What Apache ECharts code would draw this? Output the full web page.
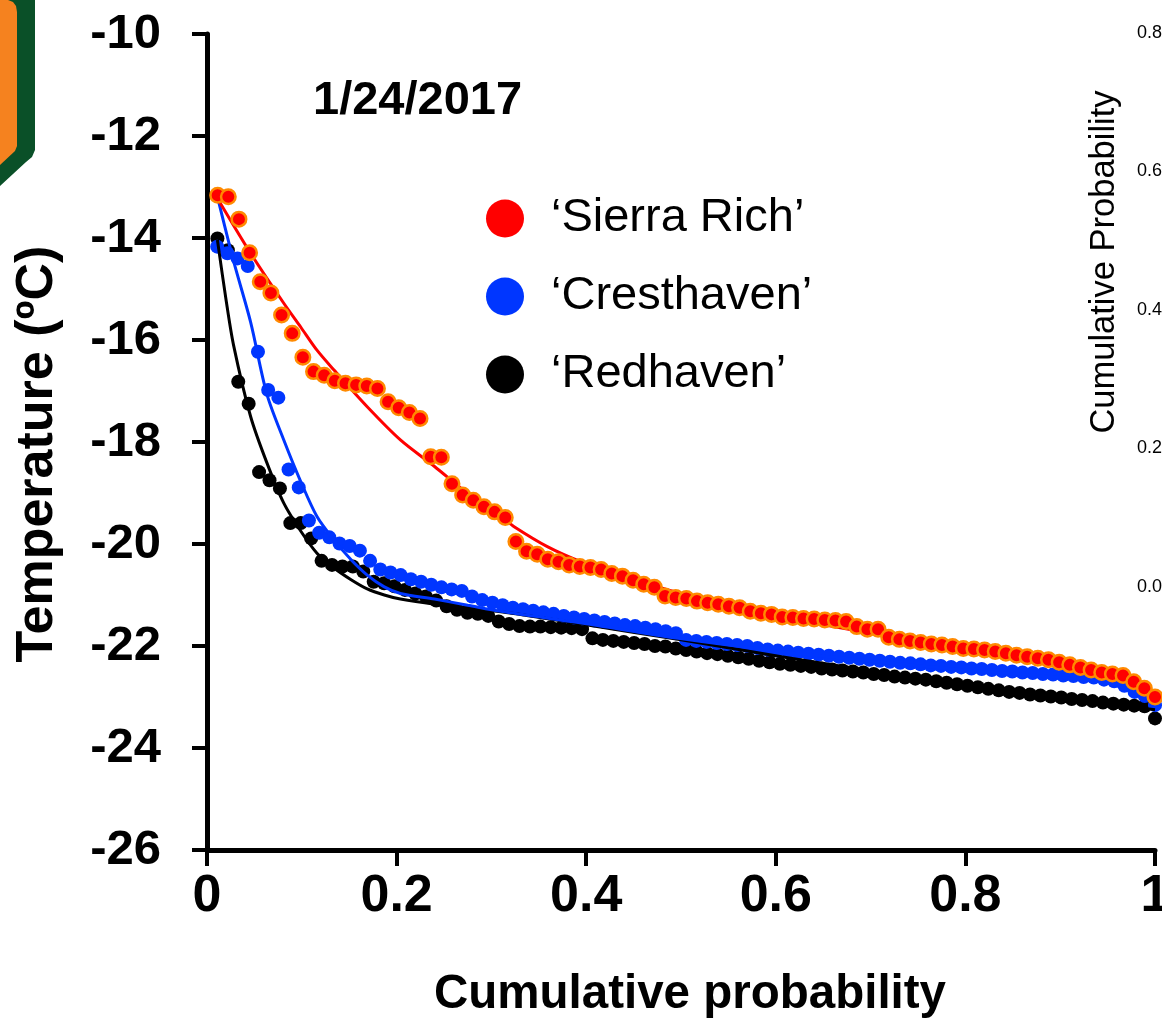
<!DOCTYPE html>
<html>
<head>
<meta charset="utf-8">
<script src="https://cdn.jsdelivr.net/npm/echarts@6/dist/echarts.min.js"></script>
<style>
html,body{margin:0;padding:0;background:#fff;overflow:hidden;}
#chart{width:1162px;height:1020px;}
</style>
</head>
<body>
<div id="chart"></div>
<script>
// ---- Data ----
const seriesNames = ['\u2018Sierra Rich\u2019', '\u2018Cresthaven\u2019', '\u2018Redhaven\u2019'];
const xTickLabels = ['0', '0.2', '0.4', '0.6', '0.8', '1'];
const yTickLabels = ['-26', '-24', '-22', '-20', '-18', '-16', '-14', '-12', '-10'];
const chartDate = '1/24/2017';
const sidePanelTicks = ['0.8', '0.6', '0.4', '0.2', '0.0'];

// Sierra Rich observed temperatures, sorted (89 buds)
const sierraRich = [
 -13.16,-13.19,-13.63,-14.29,-14.86,-15.08,-15.51,-15.87,-16.34,-16.62,
 -16.69,-16.80,-16.85,-16.88,-16.90,-16.95,-17.21,-17.33,-17.42,-17.54,
 -18.29,-18.30,-18.82,-19.04,-19.14,-19.27,-19.37,-19.48,-19.95,-20.14,
 -20.20,-20.30,-20.35,-20.41,-20.44,-20.46,-20.50,-20.58,-20.63,-20.71,
 -20.79,-20.85,-21.02,-21.05,-21.07,-21.12,-21.15,-21.18,-21.22,-21.25,
 -21.32,-21.36,-21.38,-21.43,-21.44,-21.46,-21.47,-21.49,-21.50,-21.52,
 -21.62,-21.67,-21.67,-21.83,-21.87,-21.90,-21.93,-21.96,-21.98,-22.01,
 -22.05,-22.06,-22.08,-22.11,-22.14,-22.18,-22.21,-22.24,-22.27,-22.32,
 -22.37,-22.42,-22.47,-22.52,-22.55,-22.58,-22.70,-22.83,-23.00
];
// Cresthaven observed temperatures, sorted (93 buds)
const cresthaven = [
 -14.17,-14.30,-14.40,-14.55,-16.23,-16.98,-17.13,-18.54,-18.89,-19.54,
 -19.78,-19.87,-19.99,-20.04,-20.13,-20.33,-20.50,-20.56,-20.61,-20.69,
 -20.74,-20.80,-20.85,-20.89,-20.92,-21.03,-21.10,-21.15,-21.20,-21.25,
 -21.28,-21.31,-21.34,-21.37,-21.41,-21.44,-21.47,-21.50,-21.53,-21.56,
 -21.59,-21.61,-21.64,-21.67,-21.71,-21.75,-21.88,-21.90,-21.92,-21.94,
 -21.96,-21.98,-22.00,-22.04,-22.07,-22.09,-22.11,-22.13,-22.15,-22.17,
 -22.19,-22.21,-22.23,-22.25,-22.27,-22.29,-22.31,-22.33,-22.34,-22.36,
 -22.38,-22.39,-22.41,-22.42,-22.44,-22.45,-22.47,-22.49,-22.50,-22.52,
 -22.53,-22.55,-22.56,-22.58,-22.59,-22.61,-22.62,-22.66,-22.69,-22.78,
 -22.90,-22.98,-23.16
];
// Redhaven observed temperatures, sorted (91 buds)
const redhaven = [
 -14.01,-14.24,-16.82,-17.25,-18.59,-18.75,-18.91,-19.59,-19.59,-19.89,
 -20.33,-20.41,-20.44,-20.44,-20.54,-20.74,-20.77,-20.83,-20.90,-20.97,
 -21.03,-21.11,-21.22,-21.29,-21.35,-21.37,-21.41,-21.52,-21.57,-21.61,
 -21.62,-21.62,-21.63,-21.64,-21.65,-21.67,-21.85,-21.88,-21.90,-21.92,
 -21.94,-21.96,-22.00,-22.01,-22.05,-22.08,-22.11,-22.14,-22.16,-22.19,
 -22.22,-22.25,-22.29,-22.32,-22.35,-22.37,-22.39,-22.41,-22.44,-22.46,
 -22.48,-22.50,-22.52,-22.55,-22.57,-22.60,-22.62,-22.64,-22.66,-22.69,
 -22.72,-22.75,-22.78,-22.81,-22.84,-22.87,-22.90,-22.92,-22.95,-22.97,
 -22.99,-23.01,-23.04,-23.06,-23.08,-23.11,-23.13,-23.15,-23.17,-23.18,
 -23.42
];

// Fitted curves: [cumulative probability, temperature]
const sierraRichFitX = [0.011,0.046,0.081,0.099,0.116,0.134,0.169,0.204,0.240,0.275,0.310,0.324,0.359,0.395,0.437,0.521,0.627,0.733,0.838,0.902,0.936,0.972,1.0];
const sierraRichFitY = [-13.22,-14.30,-15.28,-15.75,-16.20,-16.59,-17.31,-17.96,-18.48,-19.01,-19.46,-19.66,-20.05,-20.35,-20.62,-21.08,-21.50,-21.85,-22.15,-22.38,-22.50,-22.70,-22.96];
const cresthavenFitX = [0.011,0.028,0.046,0.063,0.081,0.099,0.116,0.134,0.152,0.169,0.187,0.204,0.240,0.275,0.310,0.395,0.497,0.606,0.712,0.817,0.902,0.955,1.0];
const cresthavenFitY = [-13.19,-14.45,-15.65,-17.05,-17.96,-18.78,-19.46,-19.92,-20.31,-20.61,-20.84,-20.97,-21.08,-21.20,-21.32,-21.55,-21.85,-22.11,-22.32,-22.50,-22.62,-22.75,-23.12];
const redhavenFitX = [0.011,0.020,0.028,0.046,0.063,0.081,0.099,0.116,0.134,0.152,0.169,0.187,0.204,0.240,0.310,0.395,0.500,0.606,0.712,0.817,0.923,1.0];
const redhavenFitY = [-14.04,-15.20,-16.10,-17.50,-18.40,-19.20,-19.75,-20.18,-20.47,-20.70,-20.88,-21.00,-21.08,-21.18,-21.33,-21.57,-21.88,-22.21,-22.52,-22.83,-23.07,-23.25];

// cumulative probability of the i-th sorted observation = rank / n
function ecdf(vals){ return vals.map((v,i)=>[(i+1)/vals.length, v]); }
function pairs(xs, ys){ return xs.map((x,i)=>[x, ys[i]]); }

const FONT = '"Liberation Sans", Arial, Helvetica, sans-serif';
const RED = '#ff0000', ORANGE = '#ff8a00', BLUE = '#0036ff', BLACK = '#000000';

const sideY = [33, 171, 310, 448, 587];
const sideTexts = sidePanelTicks.map((t, i) => ({
  type: 'text', x: 1137, y: sideY[i],
  style: {text: t, font: '18px ' + FONT, fill: '#000', verticalAlign: 'middle'}
}));

const chart = echarts.init(document.getElementById('chart'), null, {renderer:'canvas'});
chart.setOption({
  animation: false,
  backgroundColor: '#ffffff',
  grid: {left: 207, right: 7, top: 34, bottom: 170, containLabel: false, outerBoundsMode: 'none'},
  xAxis: {
    type: 'value', min: 0, max: 1, interval: 0.2,
    axisLine: {lineStyle: {color: '#000', width: 5}},
    axisTick: {length: 16, lineStyle: {color: '#000', width: 4}},
    splitLine: {show: false},
    axisLabel: {
      color: '#000', fontFamily: FONT, fontWeight: 'bold', fontSize: 52, margin: 21,
      formatter: v => xTickLabels[Math.round(v / 0.2)]
    }
  },
  yAxis: {
    type: 'value', min: -26, max: -10, interval: 2,
    axisLine: {lineStyle: {color: '#000', width: 5}},
    axisTick: {length: 15, lineStyle: {color: '#000', width: 4}},
    splitLine: {show: false},
    axisLabel: {
      color: '#000', fontFamily: FONT, fontWeight: 'bold', fontSize: 49, margin: 46,
      formatter: v => yTickLabels[Math.round((v + 26) / 2)]
    }
  },
  legend: {
    data: seriesNames,
    orient: 'vertical', left: 481, top: 190,
    itemWidth: 38, itemHeight: 38, itemGap: 31,
    icon: 'circle',
    itemStyle: {borderWidth: 0},
    textStyle: {fontFamily: FONT, fontSize: 47, color: '#000', padding: [0,0,0,22]}
  },
  series: [
    {name: seriesNames[2], type: 'scatter', data: ecdf(redhaven), symbolSize: 14, z: 2,
      itemStyle: {color: BLACK, opacity: 1}},
    {name: seriesNames[1], type: 'scatter', data: ecdf(cresthaven), symbolSize: 14, z: 3,
      itemStyle: {color: BLUE, opacity: 1}},
    {name: 'fitR', type: 'line', data: pairs(redhavenFitX, redhavenFitY), showSymbol: false, smooth: 0.3, z: 4,
      lineStyle: {color: BLACK, width: 3}},
    {name: 'fitC', type: 'line', data: pairs(cresthavenFitX, cresthavenFitY), showSymbol: false, smooth: 0.3, z: 4,
      lineStyle: {color: BLUE, width: 3}},
    {name: 'fitS', type: 'line', data: pairs(sierraRichFitX, sierraRichFitY), showSymbol: false, smooth: 0.3, z: 4,
      lineStyle: {color: RED, width: 3}},
    {name: seriesNames[0], type: 'scatter', data: ecdf(sierraRich), symbolSize: 14.5, z: 5,
      itemStyle: {color: RED, borderColor: ORANGE, borderWidth: 2.5, opacity: 1}}
  ],
  graphic: [
    // partial logo at the top-left corner
    {type: 'polygon', shape: {points: [[0,0],[35,0],[35,150],[32,157],[26,162],[0,186]]}, style: {fill: '#0a5028'}},
    {type: 'polygon', shape: {points: [[0,0],[8,0],[13,2],[16,6],[17,12],[17,146],[15,151],[0,165]]}, style: {fill: '#f5821f'}},
    // date
    {type: 'text', left: 313, top: 78, style: {text: chartDate, font: 'bold 47px ' + FONT, fill: '#000'}},
    // axis titles
    {type: 'text', x: 38, y: 454, rotation: Math.PI/2,
      style: {text: 'Temperature (\u00baC)', font: 'bold 52px ' + FONT, fill: '#000', align: 'center', verticalAlign: 'middle'}},
    {type: 'text', x: 690, y: 995,
      style: {text: 'Cumulative probability', font: 'bold 47.5px ' + FONT, fill: '#000', align: 'center', verticalAlign: 'middle'}},
    // neighbouring panel, cut off at the right edge
    {type: 'text', x: 1104, y: 262, rotation: Math.PI/2,
      style: {text: 'Cumulative Probability', font: '34.5px ' + FONT, fill: '#000', align: 'center', verticalAlign: 'middle'}}
  ].concat(sideTexts)
});
</script>
</body>
</html>
